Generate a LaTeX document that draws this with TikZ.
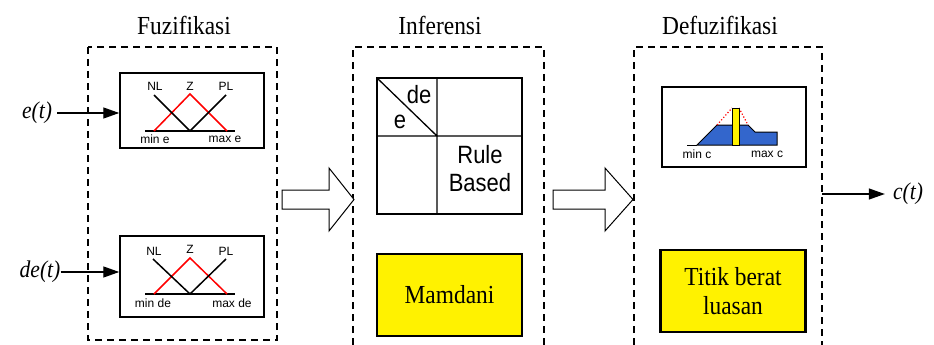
\documentclass[tikz,border=0pt]{standalone}
\usepackage{fontspec}
\setmainfont{Liberation Serif}[FakeStretch=0.9]
\setsansfont{Liberation Sans}
\newfontfamily\bigsans{Liberation Sans}[FakeStretch=0.88]
\usetikzlibrary{arrows.meta}
\definecolor{areablue}{RGB}{51,102,204}
\tikzset{
  title/.style={font=\fontsize{26}{28}\selectfont},
  signal/.style={font=\fontsize{24}{26}\selectfont\itshape},
  stage/.style={draw, line width=1.1pt, dash pattern=on 7pt off 5pt},
  panel/.style={draw, line width=1.5pt, minimum width=144pt},
  mfline/.style={line width=1.5pt},
  tiny/.style={font=\sffamily\fontsize{12}{13}\selectfont, inner sep=0pt},
  method/.style={draw, line width=2.4pt, fill=yellow, minimum width=145pt, minimum height=82pt,
    font=\fontsize{26}{29}\selectfont, align=center},
  sig/.style={line width=1.3pt, -{Triangle[length=16pt,width=11pt]}},
  bigarrow/.style={draw, line width=1pt, fill=white},
  cell/.style={font=\bigsans\fontsize{25}{28}\selectfont, inner sep=0pt, align=center}
}
\begin{document}
\begin{tikzpicture}[x=1pt,y=-1pt]
\useasboundingbox (0,0) rectangle (934,345);

% stage titles
\node[title] (tfuz) at (184,25) {Fuzifikasi};
\node[title] (tinf) at (440,25) {Inferensi};
\node[title] (tdef) at (720,25) {Defuzifikasi};

% dashed stage frames (the two right ones run off the bottom)
\draw[stage] (88,47) rectangle (277,340);
\draw[stage] (353,345) -- (353,47) -- (544,47) -- (544,345);
\draw[stage] (634,345) -- (634,47) -- (822,47) -- (822,345);
\coordinate (outport) at (822,194);

% ---- fuzzification panels ----
\node[panel, minimum height=75pt] (fz1) at (192,110.5) {};
\node[panel, minimum height=81pt] (fz2) at (192,276.5) {};

% membership functions of e
\draw[mfline] (145,131) -- (235,131);
\draw[mfline, red] (154,131) -- (190,94) -- (227,131);
\draw[mfline] (154,95) -- (190,131) -- (226,95);
\node[tiny] (nl1) at (155,86.5) {NL};
\node[tiny] (z1) at (190,86) {Z};
\node[tiny] (pl1) at (226,86.5) {PL};
\node[tiny] (mine) at (155,139.5) {min e};
\node[tiny] (maxe) at (225,139.5) {max e};

% membership functions of de
\draw[mfline] (145,294) -- (235,294);
\draw[mfline, red] (154,294) -- (190,258) -- (227,294);
\draw[mfline] (153,259) -- (190,294) -- (226,259);
\node[tiny] (nl2) at (154,251) {NL};
\node[tiny] (z2) at (190,249.5) {Z};
\node[tiny] (pl2) at (226,251) {PL};
\node[tiny] (minde) at (153,303) {min de};
\node[tiny] (maxde) at (232,303) {max de};

% inputs
\node[signal, inner sep=1pt] (et) at (37,113) {e(t)};
\node[signal, inner sep=0pt] (det) at (40,272) {de(t)};
\draw[sig] ([xshift=4pt]et.east) -- (fz1.west |- et.east);
\draw[sig] (det.east) -- (fz2.west |- det.east);

% ---- inference ----
\draw[line width=1.3pt] (377,78) rectangle (522,214);
\draw[line width=1.3pt] (437,78) -- (437,214) (377,136) -- (522,136) (377,78) -- (437,136);
\node[cell] (cde) at (419,95) {de};
\node[cell] (ce) at (400,122) {e};
\node[cell] (rule) at (480,169) {Rule\\Based};
\node[method] (mam) at (449.5,295) {Mamdani};

% ---- defuzzification ----
\node[panel, minimum height=80pt] (df) at (734,127) {};
\draw[line width=1pt] (687,145) -- (697,145);
\draw[line width=1pt, fill=areablue] (697,145) -- (717,125) -- (748,125) -- (755,132) -- (777,132) -- (777,145) -- cycle;
\draw[red, line width=1.2pt, dotted] (717,125) -- (732,108) (739,108) -- (748,125);
\draw[line width=1pt, fill=yellow] (732,108) rectangle (739,145);
\node[tiny] (minc) at (697,154) {min c};
\node[tiny] (maxc) at (767,154) {max c};
\node[method] (tb) at (733,291) {Titik berat\\luasan};

% output
\node[signal, inner sep=0pt] (ct) at (908,194) {c(t)};
\draw[sig] (outport) -- ([xshift=-8pt]ct.west);

% hollow block arrows between stages
\draw[bigarrow] (282,190) -- (329,190) -- (329,168) -- (354,199.5) -- (329,231) -- (329,209) -- (282,209) -- cycle;
\draw[bigarrow] (553,190) -- (605,190) -- (605,168) -- (633,199.5) -- (605,231) -- (605,209) -- (553,209) -- cycle;
\end{tikzpicture}
\end{document}
